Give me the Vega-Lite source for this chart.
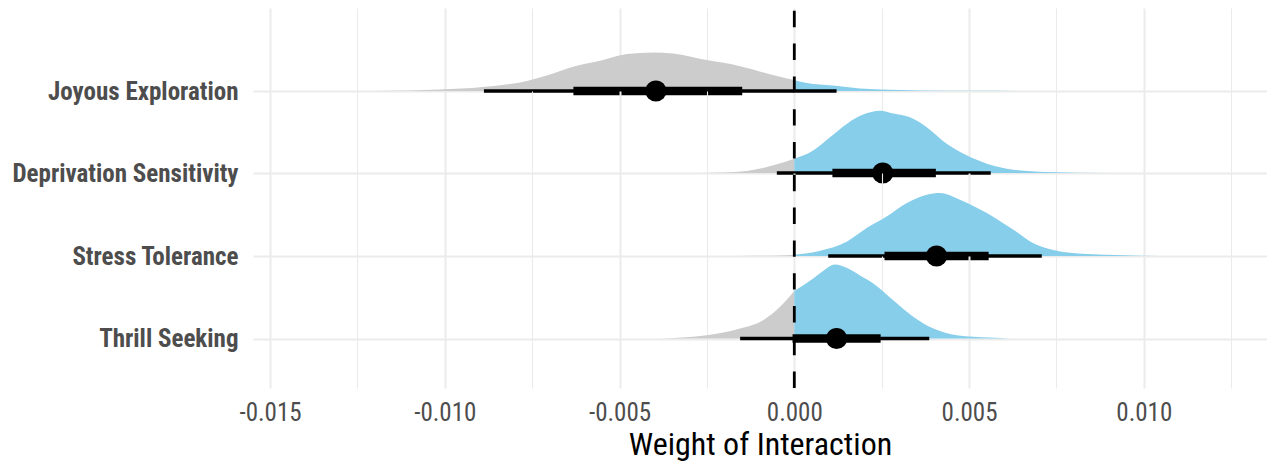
{
  "$schema": "https://vega.github.io/schema/vega-lite/v6.json",
  "background": "white",
  "padding": {"left": 11, "top": 6, "right": 0, "bottom": 8},
  "spacing": 0,
  "bounds": "flush",
  "config": {"view": {"stroke": null}},
  "datasets": {
    "dens": [
      {"name": "Joyous Exploration", "x": -0.01208, "d": 0, "side": "neg"},
      {"name": "Joyous Exploration", "x": -0.01099, "d": 0.005, "side": "neg"},
      {"name": "Joyous Exploration", "x": -0.01014, "d": 0.017, "side": "neg"},
      {"name": "Joyous Exploration", "x": -0.00891, "d": 0.048, "side": "neg"},
      {"name": "Joyous Exploration", "x": -0.00765, "d": 0.121, "side": "neg"},
      {"name": "Joyous Exploration", "x": -0.0069, "d": 0.211, "side": "neg"},
      {"name": "Joyous Exploration", "x": -0.00633, "d": 0.291, "side": "neg"},
      {"name": "Joyous Exploration", "x": -0.00556, "d": 0.364, "side": "neg"},
      {"name": "Joyous Exploration", "x": -0.00479, "d": 0.445, "side": "neg"},
      {"name": "Joyous Exploration", "x": -0.00404, "d": 0.465, "side": "neg"},
      {"name": "Joyous Exploration", "x": -0.00347, "d": 0.453, "side": "neg"},
      {"name": "Joyous Exploration", "x": -0.0025, "d": 0.372, "side": "neg"},
      {"name": "Joyous Exploration", "x": -0.00155, "d": 0.299, "side": "neg"},
      {"name": "Joyous Exploration", "x": -0.00078, "d": 0.211, "side": "neg"},
      {"name": "Joyous Exploration", "x": -0.00021, "d": 0.15, "side": "neg"},
      {"name": "Joyous Exploration", "x": 0, "d": 0.13, "side": "neg"},
      {"name": "Joyous Exploration", "x": 0, "d": 0.13, "side": "pos"},
      {"name": "Joyous Exploration", "x": 0.00036, "d": 0.097, "side": "pos"},
      {"name": "Joyous Exploration", "x": 0.00111, "d": 0.065, "side": "pos"},
      {"name": "Joyous Exploration", "x": 0.00188, "d": 0.029, "side": "pos"},
      {"name": "Joyous Exploration", "x": 0.00245, "d": 0.017, "side": "pos"},
      {"name": "Joyous Exploration", "x": 0.0036, "d": 0.007, "side": "pos"},
      {"name": "Joyous Exploration", "x": 0.00531, "d": 0.002, "side": "pos"},
      {"name": "Joyous Exploration", "x": 0.00903, "d": 0, "side": "pos"},

      {"name": "Deprivation Sensitivity", "x": -0.0027, "d": 0, "side": "neg"},
      {"name": "Deprivation Sensitivity", "x": -0.002, "d": 0.006, "side": "neg"},
      {"name": "Deprivation Sensitivity", "x": -0.00136, "d": 0.024, "side": "neg"},
      {"name": "Deprivation Sensitivity", "x": -0.0006, "d": 0.093, "side": "neg"},
      {"name": "Deprivation Sensitivity", "x": 0, "d": 0.175, "side": "neg"},
      {"name": "Deprivation Sensitivity", "x": 0, "d": 0.175, "side": "pos"},
      {"name": "Deprivation Sensitivity", "x": 0.00054, "d": 0.275, "side": "pos"},
      {"name": "Deprivation Sensitivity", "x": 0.00102, "d": 0.436, "side": "pos"},
      {"name": "Deprivation Sensitivity", "x": 0.0015, "d": 0.599, "side": "pos"},
      {"name": "Deprivation Sensitivity", "x": 0.00197, "d": 0.712, "side": "pos"},
      {"name": "Deprivation Sensitivity", "x": 0.00245, "d": 0.76, "side": "pos"},
      {"name": "Deprivation Sensitivity", "x": 0.00283, "d": 0.727, "side": "pos"},
      {"name": "Deprivation Sensitivity", "x": 0.00331, "d": 0.679, "side": "pos"},
      {"name": "Deprivation Sensitivity", "x": 0.00379, "d": 0.558, "side": "pos"},
      {"name": "Deprivation Sensitivity", "x": 0.00436, "d": 0.356, "side": "pos"},
      {"name": "Deprivation Sensitivity", "x": 0.00493, "d": 0.215, "side": "pos"},
      {"name": "Deprivation Sensitivity", "x": 0.00551, "d": 0.114, "side": "pos"},
      {"name": "Deprivation Sensitivity", "x": 0.00626, "d": 0.041, "side": "pos"},
      {"name": "Deprivation Sensitivity", "x": 0.00722, "d": 0.012, "side": "pos"},
      {"name": "Deprivation Sensitivity", "x": 0.00904, "d": 0, "side": "pos"},

      {"name": "Stress Tolerance", "x": -0.00155, "d": 0, "side": "neg"},
      {"name": "Stress Tolerance", "x": -0.00041, "d": 0.006, "side": "neg"},
      {"name": "Stress Tolerance", "x": 0, "d": 0.015, "side": "neg"},
      {"name": "Stress Tolerance", "x": 0, "d": 0.015, "side": "pos"},
      {"name": "Stress Tolerance", "x": 0.00074, "d": 0.064, "side": "pos"},
      {"name": "Stress Tolerance", "x": 0.0015, "d": 0.173, "side": "pos"},
      {"name": "Stress Tolerance", "x": 0.00207, "d": 0.336, "side": "pos"},
      {"name": "Stress Tolerance", "x": 0.00264, "d": 0.476, "side": "pos"},
      {"name": "Stress Tolerance", "x": 0.00322, "d": 0.639, "side": "pos"},
      {"name": "Stress Tolerance", "x": 0.00379, "d": 0.739, "side": "pos"},
      {"name": "Stress Tolerance", "x": 0.00417, "d": 0.76, "side": "pos"},
      {"name": "Stress Tolerance", "x": 0.00474, "d": 0.679, "side": "pos"},
      {"name": "Stress Tolerance", "x": 0.00551, "d": 0.518, "side": "pos"},
      {"name": "Stress Tolerance", "x": 0.00627, "d": 0.315, "side": "pos"},
      {"name": "Stress Tolerance", "x": 0.00684, "d": 0.154, "side": "pos"},
      {"name": "Stress Tolerance", "x": 0.00741, "d": 0.073, "side": "pos"},
      {"name": "Stress Tolerance", "x": 0.00837, "d": 0.024, "side": "pos"},
      {"name": "Stress Tolerance", "x": 0.01046, "d": 0, "side": "pos"},

      {"name": "Thrill Seeking", "x": -0.00384, "d": 0, "side": "neg"},
      {"name": "Thrill Seeking", "x": -0.00347, "d": 0.006, "side": "neg"},
      {"name": "Thrill Seeking", "x": -0.00251, "d": 0.04, "side": "neg"},
      {"name": "Thrill Seeking", "x": -0.00155, "d": 0.121, "side": "neg"},
      {"name": "Thrill Seeking", "x": -0.00089, "d": 0.222, "side": "neg"},
      {"name": "Thrill Seeking", "x": -0.00041, "d": 0.384, "side": "neg"},
      {"name": "Thrill Seeking", "x": 0, "d": 0.577, "side": "neg"},
      {"name": "Thrill Seeking", "x": 0, "d": 0.577, "side": "pos"},
      {"name": "Thrill Seeking", "x": 0.00054, "d": 0.727, "side": "pos"},
      {"name": "Thrill Seeking", "x": 0.0008, "d": 0.812, "side": "pos"},
      {"name": "Thrill Seeking", "x": 0.00116, "d": 0.897, "side": "pos"},
      {"name": "Thrill Seeking", "x": 0.00154, "d": 0.848, "side": "pos"},
      {"name": "Thrill Seeking", "x": 0.00188, "d": 0.764, "side": "pos"},
      {"name": "Thrill Seeking", "x": 0.00226, "d": 0.667, "side": "pos"},
      {"name": "Thrill Seeking", "x": 0.00283, "d": 0.464, "side": "pos"},
      {"name": "Thrill Seeking", "x": 0.00341, "d": 0.262, "side": "pos"},
      {"name": "Thrill Seeking", "x": 0.00398, "d": 0.121, "side": "pos"},
      {"name": "Thrill Seeking", "x": 0.00465, "d": 0.04, "side": "pos"},
      {"name": "Thrill Seeking", "x": 0.0056, "d": 0.012, "side": "pos"},
      {"name": "Thrill Seeking", "x": 0.00617, "d": 0, "side": "pos"}
    ],
    "iv": [
      {"name": "Joyous Exploration", "lo95": -0.00888, "hi95": 0.00121, "lo66": -0.00632, "hi66": -0.00149, "med": -0.00396},
      {"name": "Deprivation Sensitivity", "lo95": -0.0005, "hi95": 0.00562, "lo66": 0.00109, "hi66": 0.00405, "med": 0.00253},
      {"name": "Stress Tolerance", "lo95": 0.00097, "hi95": 0.00708, "lo66": 0.00258, "hi66": 0.00556, "med": 0.00407},
      {"name": "Thrill Seeking", "lo95": -0.00155, "hi95": 0.00386, "lo66": -0.00005, "hi66": 0.00247, "med": 0.00121}
    ]
  },
  "vconcat": [
    {
      "width": 1014, "height": 83,
      "layer": [
        {"data": {"name": "dens"}, "transform": [{"filter": "datum.name === 'Joyous Exploration'"}],
         "mark": {"type": "area", "interpolate": "monotone"},
         "encoding": {
           "x": {"field": "x", "type": "quantitative", "scale": {"domain": [-0.015487, 0.013524], "nice": false, "zero": false},
                 "axis": {"values": [-0.015, -0.0125, -0.01, -0.0075, -0.005, -0.0025, 0, 0.0025, 0.005, 0.0075, 0.01, 0.0125], "grid": true, "gridColor": "#ebebeb", "gridWidth": {"condition": {"test": "abs(datum.value*200 - round(datum.value*200)) > 0.1", "value": 1.1}, "value": 2}, "labels": false, "ticks": false, "domain": false, "title": null}},
           "y": {"field": "d", "type": "quantitative", "stack": null, "scale": {"domain": [0, 1], "nice": false},
                 "axis": {"values": [0], "grid": true, "gridColor": "#ebebeb", "gridWidth": 2, "domain": false, "ticks": false, "title": null, "labelExpr": "'Joyous Exploration'", "labelFont": "Roboto Condensed, Liberation Sans Narrow, DejaVu Sans Condensed, Roboto, sans-serif", "labelFontSize": 25, "labelFontWeight": "bold", "labelColor": "#4d4d4d", "labelPadding": 15, "labelLimit": 500}},
           "color": {"field": "side", "type": "nominal", "scale": {"domain": ["neg", "pos"], "range": ["#cccccc", "#87ceeb"]}, "legend": null}
         }},
        {"data": {"name": "iv"}, "transform": [{"filter": "datum.name === 'Joyous Exploration'"}],
         "mark": {"type": "rule", "color": "black", "strokeWidth": 3.3},
         "encoding": {"x": {"field": "lo95", "type": "quantitative"}, "x2": {"field": "hi95"}, "y": {"datum": 0}}},
        {"data": {"name": "iv"}, "transform": [{"filter": "datum.name === 'Joyous Exploration'"}],
         "mark": {"type": "rule", "color": "black", "strokeWidth": 8.3},
         "encoding": {"x": {"field": "lo66", "type": "quantitative"}, "x2": {"field": "hi66"}, "y": {"datum": 0}}},
        {"data": {"name": "iv"}, "transform": [{"filter": "datum.name === 'Joyous Exploration'"}],
         "mark": {"type": "point", "filled": true, "color": "black", "opacity": 1, "size": 450},
         "encoding": {"x": {"field": "med", "type": "quantitative"}, "y": {"datum": 0}}}
      ]
    },
    {
      "width": 1014, "height": 82,
      "layer": [
        {"data": {"name": "dens"}, "transform": [{"filter": "datum.name === 'Deprivation Sensitivity'"}],
         "mark": {"type": "area", "interpolate": "monotone"},
         "encoding": {
           "x": {"field": "x", "type": "quantitative", "scale": {"domain": [-0.015487, 0.013524], "nice": false, "zero": false},
                 "axis": {"values": [-0.015, -0.0125, -0.01, -0.0075, -0.005, -0.0025, 0, 0.0025, 0.005, 0.0075, 0.01, 0.0125], "grid": true, "gridColor": "#ebebeb", "gridWidth": {"condition": {"test": "abs(datum.value*200 - round(datum.value*200)) > 0.1", "value": 1.1}, "value": 2}, "labels": false, "ticks": false, "domain": false, "title": null}},
           "y": {"field": "d", "type": "quantitative", "stack": null, "scale": {"domain": [0, 1], "nice": false},
                 "axis": {"values": [0], "grid": true, "gridColor": "#ebebeb", "gridWidth": 2, "domain": false, "ticks": false, "title": null, "labelExpr": "'Deprivation Sensitivity'", "labelFont": "Roboto Condensed, Liberation Sans Narrow, DejaVu Sans Condensed, Roboto, sans-serif", "labelFontSize": 25, "labelFontWeight": "bold", "labelColor": "#4d4d4d", "labelPadding": 15, "labelLimit": 500}},
           "color": {"field": "side", "type": "nominal", "scale": {"domain": ["neg", "pos"], "range": ["#cccccc", "#87ceeb"]}, "legend": null}
         }},
        {"data": {"name": "iv"}, "transform": [{"filter": "datum.name === 'Deprivation Sensitivity'"}],
         "mark": {"type": "rule", "color": "black", "strokeWidth": 3.3},
         "encoding": {"x": {"field": "lo95", "type": "quantitative"}, "x2": {"field": "hi95"}, "y": {"datum": 0}}},
        {"data": {"name": "iv"}, "transform": [{"filter": "datum.name === 'Deprivation Sensitivity'"}],
         "mark": {"type": "rule", "color": "black", "strokeWidth": 8.3},
         "encoding": {"x": {"field": "lo66", "type": "quantitative"}, "x2": {"field": "hi66"}, "y": {"datum": 0}}},
        {"data": {"name": "iv"}, "transform": [{"filter": "datum.name === 'Deprivation Sensitivity'"}],
         "mark": {"type": "point", "filled": true, "color": "black", "opacity": 1, "size": 450},
         "encoding": {"x": {"field": "med", "type": "quantitative"}, "y": {"datum": 0}}}
      ]
    },
    {
      "width": 1014, "height": 83,
      "layer": [
        {"data": {"name": "dens"}, "transform": [{"filter": "datum.name === 'Stress Tolerance'"}],
         "mark": {"type": "area", "interpolate": "monotone"},
         "encoding": {
           "x": {"field": "x", "type": "quantitative", "scale": {"domain": [-0.015487, 0.013524], "nice": false, "zero": false},
                 "axis": {"values": [-0.015, -0.0125, -0.01, -0.0075, -0.005, -0.0025, 0, 0.0025, 0.005, 0.0075, 0.01, 0.0125], "grid": true, "gridColor": "#ebebeb", "gridWidth": {"condition": {"test": "abs(datum.value*200 - round(datum.value*200)) > 0.1", "value": 1.1}, "value": 2}, "labels": false, "ticks": false, "domain": false, "title": null}},
           "y": {"field": "d", "type": "quantitative", "stack": null, "scale": {"domain": [0, 1], "nice": false},
                 "axis": {"values": [0], "grid": true, "gridColor": "#ebebeb", "gridWidth": 2, "domain": false, "ticks": false, "title": null, "labelExpr": "'Stress Tolerance'", "labelFont": "Roboto Condensed, Liberation Sans Narrow, DejaVu Sans Condensed, Roboto, sans-serif", "labelFontSize": 25, "labelFontWeight": "bold", "labelColor": "#4d4d4d", "labelPadding": 15, "labelLimit": 500}},
           "color": {"field": "side", "type": "nominal", "scale": {"domain": ["neg", "pos"], "range": ["#cccccc", "#87ceeb"]}, "legend": null}
         }},
        {"data": {"name": "iv"}, "transform": [{"filter": "datum.name === 'Stress Tolerance'"}],
         "mark": {"type": "rule", "color": "black", "strokeWidth": 3.3},
         "encoding": {"x": {"field": "lo95", "type": "quantitative"}, "x2": {"field": "hi95"}, "y": {"datum": 0}}},
        {"data": {"name": "iv"}, "transform": [{"filter": "datum.name === 'Stress Tolerance'"}],
         "mark": {"type": "rule", "color": "black", "strokeWidth": 8.3},
         "encoding": {"x": {"field": "lo66", "type": "quantitative"}, "x2": {"field": "hi66"}, "y": {"datum": 0}}},
        {"data": {"name": "iv"}, "transform": [{"filter": "datum.name === 'Stress Tolerance'"}],
         "mark": {"type": "point", "filled": true, "color": "black", "opacity": 1, "size": 450},
         "encoding": {"x": {"field": "med", "type": "quantitative"}, "y": {"datum": 0}}}
      ]
    },
    {
      "width": 1014, "height": 132,
      "layer": [
        {"data": {"name": "dens"}, "transform": [{"filter": "datum.name === 'Thrill Seeking'"}],
         "mark": {"type": "area", "interpolate": "monotone"},
         "encoding": {
           "x": {"field": "x", "type": "quantitative", "scale": {"domain": [-0.015487, 0.013524], "nice": false, "zero": false},
                 "axis": {"values": [-0.015, -0.0125, -0.01, -0.0075, -0.005, -0.0025, 0, 0.0025, 0.005, 0.0075, 0.01, 0.0125], "grid": true, "gridColor": "#ebebeb", "gridWidth": {"condition": {"test": "abs(datum.value*200 - round(datum.value*200)) > 0.1", "value": 1.1}, "value": 2}, "ticks": false, "domain": false,
                          "labelExpr": "abs(datum.value*200 - round(datum.value*200)) > 0.1 ? '' : replace(format(datum.value, '.3f'), '\u2212', '-')",
                          "labelFont": "Roboto Condensed, Liberation Sans Narrow, DejaVu Sans Condensed, Roboto, sans-serif", "labelFontSize": 25, "labelColor": "#4d4d4d", "labelPadding": 12, "labelFlush": false, "labelOverlap": false,
                          "title": "Weight of Interaction", "titleFont": "Roboto Condensed, Liberation Sans Narrow, DejaVu Sans Condensed, Roboto, sans-serif", "titleFontSize": 32, "titleFontWeight": "normal", "titleColor": "black", "titlePadding": 4}},
           "y": {"field": "d", "type": "quantitative", "stack": null, "scale": {"domain": [-0.6, 1], "nice": false, "zero": false},
                 "axis": {"values": [0], "grid": true, "gridColor": "#ebebeb", "gridWidth": 2, "domain": false, "ticks": false, "title": null, "labelExpr": "'Thrill Seeking'", "labelFont": "Roboto Condensed, Liberation Sans Narrow, DejaVu Sans Condensed, Roboto, sans-serif", "labelFontSize": 25, "labelFontWeight": "bold", "labelColor": "#4d4d4d", "labelPadding": 15, "labelLimit": 500}},
           "color": {"field": "side", "type": "nominal", "scale": {"domain": ["neg", "pos"], "range": ["#cccccc", "#87ceeb"]}, "legend": null}
         }},
        {"data": {"name": "iv"}, "transform": [{"filter": "datum.name === 'Thrill Seeking'"}],
         "mark": {"type": "rule", "color": "black", "strokeWidth": 2.8, "strokeDash": [16.4, 16.4]},
         "encoding": {"x": {"datum": 0}, "y": {"datum": -0.6}, "y2": {"datum": 4.006}}},
        {"data": {"name": "iv"}, "transform": [{"filter": "datum.name === 'Thrill Seeking'"}],
         "mark": {"type": "rule", "color": "black", "strokeWidth": 3.3},
         "encoding": {"x": {"field": "lo95", "type": "quantitative"}, "x2": {"field": "hi95"}, "y": {"datum": 0}}},
        {"data": {"name": "iv"}, "transform": [{"filter": "datum.name === 'Thrill Seeking'"}],
         "mark": {"type": "rule", "color": "black", "strokeWidth": 8.3},
         "encoding": {"x": {"field": "lo66", "type": "quantitative"}, "x2": {"field": "hi66"}, "y": {"datum": 0}}},
        {"data": {"name": "iv"}, "transform": [{"filter": "datum.name === 'Thrill Seeking'"}],
         "mark": {"type": "point", "filled": true, "color": "black", "opacity": 1, "size": 450},
         "encoding": {"x": {"field": "med", "type": "quantitative"}, "y": {"datum": 0}}}
      ]
    }
  ]
}
